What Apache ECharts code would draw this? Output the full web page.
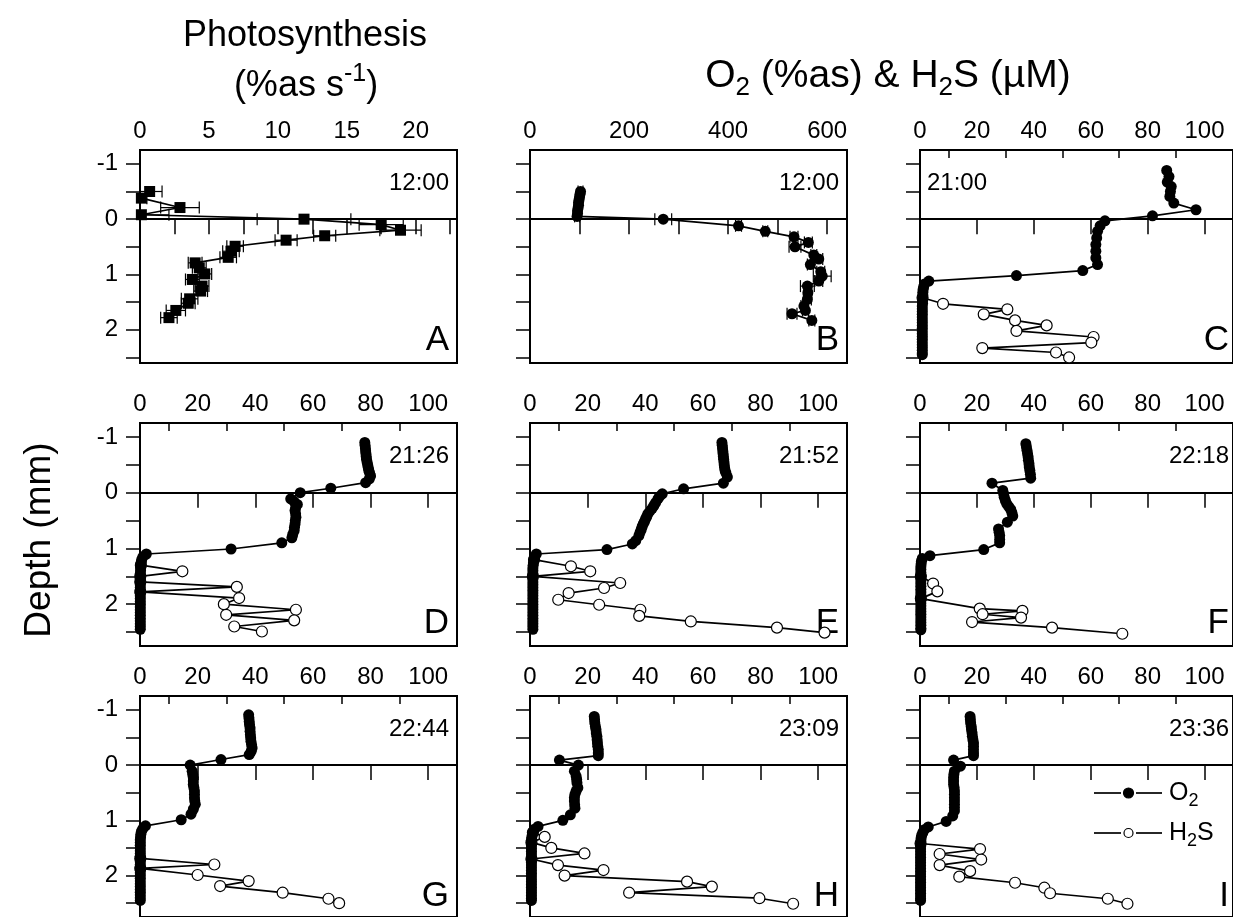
<!DOCTYPE html>
<html>
<head>
<meta charset="utf-8">
<script src="https://cdn.jsdelivr.net/npm/echarts@6/dist/echarts.min.js"></script>
<style>html,body{margin:0;padding:0;background:#fff}#main{width:1233px;height:917px}</style>
</head>
<body>
<div id="main"></div>
<script>
var FONT = '"Liberation Sans", Arial, Helvetica, sans-serif';

// A: photosynthesis 12:00  [rate, depth, error]
var photoA = [[0.7,-0.50,0.9],[0.1,-0.38,0.4],[2.9,-0.21,1.4],[0.1,-0.08,2.0],[11.9,0.00,3.4],[17.5,0.10,1.6],[18.9,0.20,1.5],[13.4,0.30,0.8],[10.6,0.38,0.8],[6.9,0.49,0.6],[6.6,0.58,0.6],[6.4,0.69,0.6],[4.0,0.79,0.5],[4.3,0.88,0.5],[4.7,0.99,0.5],[3.8,1.09,0.5],[4.5,1.21,0.5],[4.4,1.30,0.5],[3.6,1.44,0.6],[3.5,1.52,0.5],[2.6,1.65,0.7],[2.1,1.78,0.6]];
// B: O2 12:00  [%as, depth, error]
var o2B = [[102,-0.50,5],[101,-0.45,5],[100,-0.40,5],[99,-0.35,5],[98,-0.30,5],[98,-0.25,5],[97,-0.20,5],[96,-0.15,5],[96,-0.10,5],[95,-0.05,5],[269,0.00,17],[421,0.12,6],[475,0.22,5],[533,0.32,8],[562,0.42,8],[535,0.50,12],[573,0.65,6],[583,0.72,8],[566,0.82,6],[587,0.95,8],[590,1.03,18],[583,1.12,8],[560,1.21,14],[561,1.33,8],[560,1.45,8],[553,1.57,6],[556,1.65,6],[529,1.71,10],[569,1.83,6]];

// C-I: O2 (%as) and H2S (uM)  [value, depth]
var o2C = [[86.7,-0.88],[87.5,-0.77],[86.9,-0.67],[88.3,-0.59],[88.0,-0.50],[87.8,-0.41],[89.2,-0.29],[97.0,-0.17],[81.7,-0.06],[65.0,0.03],[63.3,0.12],[62.4,0.22],[62.1,0.34],[61.8,0.46],[61.8,0.58],[61.8,0.70],[62.4,0.82],[57.2,0.93],[33.9,1.02],[3.1,1.12],[1.6,1.17],[1.3,1.22],[1.1,1.27],[1.0,1.32],[1.0,1.37],[0.9,1.42],[0.9,1.47],[0.9,1.52],[0.8,1.57],[0.8,1.62],[0.8,1.67],[0.8,1.72],[0.8,1.77],[0.8,1.82],[0.8,1.87],[0.8,1.92],[0.8,1.97],[0.8,2.02],[0.8,2.07],[0.8,2.12],[0.8,2.17],[0.8,2.22],[0.8,2.27],[0.8,2.32],[0.8,2.37],[0.8,2.42],[0.8,2.45]];
var h2sC = [[0.9,1.42],[8.1,1.53],[30.7,1.63],[22.4,1.72],[33.4,1.83],[44.5,1.92],[33.9,2.02],[61.0,2.13],[60.2,2.23],[21.9,2.33],[47.8,2.41],[52.4,2.50]];

var o2D = [[78.0,-0.90],[78.1,-0.85],[78.2,-0.80],[78.3,-0.75],[78.4,-0.70],[78.5,-0.65],[78.6,-0.60],[78.8,-0.55],[79.0,-0.50],[79.2,-0.45],[79.4,-0.40],[79.7,-0.35],[80.0,-0.30],[79.6,-0.25],[78.3,-0.18],[66.2,-0.08],[55.6,0.00],[52.3,0.11],[53.5,0.16],[54.6,0.21],[54.0,0.27],[53.8,0.32],[54.0,0.38],[54.1,0.44],[53.9,0.50],[53.8,0.56],[53.6,0.62],[53.5,0.68],[53.0,0.75],[52.7,0.81],[49.2,0.90],[31.6,1.01],[2.2,1.10],[1.0,1.15],[0.6,1.20],[0.4,1.25],[0.3,1.30],[0.2,1.35],[0.2,1.40],[0.1,1.45],[0.1,1.50],[0.1,1.55],[0.1,1.60],[0.1,1.65],[0.1,1.70],[0.1,1.75],[0.1,1.80],[0.1,1.85],[0.1,1.90],[0.1,1.95],[0.1,2.00],[0.1,2.05],[0.1,2.10],[0.1,2.15],[0.1,2.20],[0.1,2.25],[0.1,2.30],[0.1,2.35],[0.1,2.40],[0.1,2.45]];
var h2sD = [[0.3,1.30],[14.7,1.41],[0.1,1.50],[0.1,1.60],[33.6,1.69],[0.1,1.78],[34.4,1.89],[29.1,2.00],[54.1,2.10],[29.9,2.19],[53.5,2.29],[32.7,2.40],[42.3,2.49]];

var o2E = [[66.6,-0.90],[66.7,-0.85],[66.8,-0.80],[66.9,-0.75],[67.0,-0.70],[67.1,-0.65],[67.2,-0.60],[67.3,-0.55],[67.4,-0.50],[67.5,-0.45],[67.7,-0.40],[68.0,-0.35],[68.5,-0.28],[67.1,-0.17],[53.3,-0.07],[45.9,0.02],[44.9,0.07],[44.4,0.11],[43.6,0.18],[43.0,0.23],[42.4,0.28],[41.6,0.33],[40.9,0.38],[40.5,0.43],[40.1,0.47],[39.7,0.52],[39.3,0.56],[38.9,0.61],[38.6,0.66],[38.2,0.71],[37.8,0.77],[36.7,0.86],[35.5,0.92],[26.7,1.02],[2.2,1.10],[1.6,1.15],[1.4,1.20],[1.2,1.25],[1.1,1.30],[1.0,1.35],[1.0,1.40],[1.0,1.45],[1.0,1.50],[1.0,1.55],[1.0,1.60],[1.0,1.65],[1.0,1.70],[1.0,1.75],[1.0,1.80],[1.0,1.85],[1.0,1.90],[1.0,1.95],[1.0,2.00],[1.0,2.05],[1.0,2.10],[1.0,2.15],[1.0,2.20],[1.0,2.25],[1.0,2.30],[1.0,2.35],[1.0,2.40],[1.0,2.45]];
var h2sE = [[1.4,1.20],[14.2,1.32],[20.9,1.41],[1.0,1.50],[31.3,1.62],[25.7,1.71],[13.4,1.80],[9.8,1.92],[24.0,2.01],[38.3,2.10],[37.9,2.21],[55.8,2.31],[85.7,2.42],[102.2,2.51]];

var o2F = [[37.2,-0.88],[37.4,-0.82],[37.6,-0.76],[37.8,-0.70],[38.0,-0.64],[38.1,-0.58],[38.3,-0.52],[38.4,-0.46],[38.6,-0.40],[38.8,-0.33],[38.9,-0.26],[25.3,-0.17],[29.1,-0.04],[29.4,0.02],[29.6,0.08],[30.0,0.14],[30.5,0.20],[31.2,0.25],[31.9,0.30],[32.3,0.36],[32.6,0.42],[30.7,0.53],[27.6,0.65],[27.8,0.71],[28.0,0.77],[28.0,0.84],[28.0,0.90],[22.4,1.02],[3.5,1.13],[0.8,1.18],[0.5,1.23],[0.4,1.28],[0.3,1.33],[0.3,1.38],[0.3,1.43],[0.3,1.48],[0.3,1.53],[0.3,1.58],[0.3,1.63],[0.3,1.68],[0.3,1.73],[0.3,1.78],[0.3,1.83],[0.3,1.88],[0.3,1.93],[0.3,1.98],[0.3,2.03],[0.3,2.08],[0.3,2.13],[0.3,2.18],[0.3,2.23],[0.3,2.28],[0.3,2.33],[0.3,2.38],[0.3,2.43],[0.3,2.46]];
var h2sF = [[0.3,1.50],[4.6,1.63],[6.1,1.77],[0.3,1.90],[21.0,2.08],[36.0,2.12],[22.0,2.18],[35.5,2.24],[18.3,2.32],[46.4,2.42],[71.1,2.53]];

var o2G = [[37.7,-0.91],[37.8,-0.85],[37.9,-0.79],[38.0,-0.73],[38.2,-0.67],[38.2,-0.61],[38.3,-0.55],[38.4,-0.49],[38.5,-0.43],[38.7,-0.37],[38.9,-0.31],[38.6,-0.25],[37.9,-0.19],[28.1,-0.10],[17.4,0.00],[18.1,0.11],[18.3,0.17],[18.5,0.23],[18.5,0.29],[18.5,0.35],[18.7,0.41],[18.9,0.47],[18.9,0.53],[18.9,0.59],[19.0,0.65],[19.2,0.71],[18.5,0.80],[17.7,0.89],[14.3,0.99],[1.9,1.10],[1.0,1.15],[0.5,1.20],[0.3,1.25],[0.2,1.30],[0.1,1.35],[0.1,1.40],[0.1,1.45],[0.1,1.50],[0.1,1.55],[0.1,1.60],[0.1,1.65],[0.1,1.70],[0.1,1.75],[0.1,1.80],[0.1,1.85],[0.1,1.90],[0.1,1.95],[0.1,2.00],[0.1,2.05],[0.1,2.10],[0.1,2.15],[0.1,2.20],[0.1,2.25],[0.1,2.30],[0.1,2.35],[0.1,2.40],[0.1,2.45]];
var h2sG = [[0.1,1.69],[25.8,1.80],[0.1,1.87],[20.0,1.99],[37.7,2.10],[27.8,2.19],[49.5,2.31],[65.4,2.42],[69.1,2.50]];

var o2H = [[22.3,-0.88],[22.4,-0.82],[22.5,-0.76],[22.7,-0.70],[22.9,-0.64],[23.0,-0.58],[23.2,-0.52],[23.3,-0.46],[23.4,-0.40],[23.5,-0.34],[23.7,-0.28],[23.7,-0.22],[23.7,-0.17],[10.2,-0.09],[16.8,0.00],[15.4,0.11],[16.0,0.20],[16.2,0.26],[16.3,0.32],[16.6,0.41],[16.0,0.47],[15.6,0.53],[15.4,0.59],[15.4,0.65],[15.5,0.72],[15.6,0.78],[14.0,0.90],[11.4,1.00],[2.8,1.11],[1.5,1.16],[1.0,1.21],[0.8,1.26],[0.6,1.31],[0.5,1.36],[0.5,1.41],[0.5,1.46],[0.5,1.51],[0.5,1.56],[0.5,1.61],[0.5,1.66],[0.5,1.71],[0.5,1.76],[0.5,1.81],[0.5,1.86],[0.5,1.91],[0.5,1.96],[0.5,2.01],[0.5,2.06],[0.5,2.11],[0.5,2.16],[0.5,2.21],[0.5,2.26],[0.5,2.31],[0.5,2.36],[0.5,2.41],[0.5,2.45]];
var h2sH = [[1.0,1.22],[5.1,1.30],[0.5,1.40],[7.4,1.50],[18.9,1.60],[0.5,1.70],[9.7,1.81],[25.5,1.90],[12.0,2.00],[54.5,2.11],[63.1,2.20],[34.4,2.31],[79.6,2.41],[91.3,2.51]];

var o2I = [[17.6,-0.88],[17.7,-0.82],[17.8,-0.76],[18.0,-0.70],[18.1,-0.64],[18.3,-0.58],[18.4,-0.52],[18.6,-0.46],[18.8,-0.40],[18.8,-0.34],[18.8,-0.28],[18.8,-0.22],[18.8,-0.17],[11.8,-0.09],[14.2,0.02],[12.1,0.11],[11.9,0.17],[11.8,0.23],[11.8,0.29],[11.8,0.35],[12.0,0.41],[12.1,0.47],[12.1,0.53],[12.1,0.59],[12.1,0.65],[12.1,0.71],[12.1,0.77],[12.1,0.83],[11.5,0.92],[9.2,1.02],[2.9,1.12],[1.5,1.17],[1.0,1.22],[0.6,1.27],[0.4,1.32],[0.3,1.37],[0.2,1.42],[0.2,1.47],[0.2,1.52],[0.2,1.57],[0.2,1.62],[0.2,1.67],[0.2,1.72],[0.2,1.77],[0.2,1.82],[0.2,1.87],[0.2,1.92],[0.2,1.97],[0.2,2.02],[0.2,2.07],[0.2,2.12],[0.2,2.17],[0.2,2.22],[0.2,2.27],[0.2,2.32],[0.2,2.37],[0.2,2.42],[0.2,2.45]];
var h2sI = [[0.2,1.42],[21.1,1.52],[6.9,1.61],[21.5,1.71],[6.9,1.81],[17.6,1.92],[13.8,2.02],[33.4,2.13],[43.7,2.22],[45.7,2.32],[66.0,2.42],[72.9,2.51]];

var timeLabels = ['12:00','12:00','21:00','21:26','21:52','22:18','22:44','23:09','23:36'];
var panelLetters = ['A','B','C','D','E','F','G','H','I'];
var legendItems = [{main: 'O', sub: '2', tail: '', filled: true}, {main: 'H', sub: '2', tail: 'S', filled: false}];

// tick positions
var depthTicks = [-1,-0.5,0,0.5,1,1.5,2,2.5];
var depthLabels = [-1,0,1,2];
var ticksA = [0,2.5,5,7.5,10,12.5,15,17.5,20,22.5];
var labelsA = [0,5,10,15,20];
var ticksB = [100,200,300,400,500,600];
var labelsB = [0,200,400,600];
var majorTicks = [20,40,60,80,100];
var minorTicks = [10,30,50,70,90];
var labels100 = [0,20,40,60,80,100];

var o2Data = [null, null, o2C, o2D, o2E, o2F, o2G, o2H, o2I];
var h2sData = [null, null, h2sC, h2sD, h2sE, h2sF, h2sG, h2sH, h2sI];

// layout (px)
var colLeft = [140, 530, 920];
var rowTop = [150, 423, 696];
var rowHeight = [213, 223, 223];
var yMax = [2.6, 2.75, 2.75];
var plotW = 317;

var chart = echarts.init(document.getElementById('main'));

function errBar(params, api) {
  var x = api.value(0), y = api.value(1), e = api.value(2);
  var a = api.coord([x - e, y]), b = api.coord([x + e, y]);
  var h = 6, st = {stroke: '#000', lineWidth: 1.2};
  return {type: 'group', children: [
    {type: 'line', shape: {x1: a[0], y1: a[1], x2: b[0], y2: b[1]}, style: st},
    {type: 'line', shape: {x1: a[0], y1: a[1] - h, x2: a[0], y2: a[1] + h}, style: st},
    {type: 'line', shape: {x1: b[0], y1: b[1] - h, x2: b[0], y2: b[1] + h}, style: st}
  ]};
}

var zeroLine = {
  silent: true, symbol: ['none', 'none'], animation: false,
  label: {show: false},
  lineStyle: {color: '#000', width: 1.5, type: 'solid'},
  data: [{yAxis: 0}]
};

var grids = [], xAxes = [], yAxes = [], series = [], graphics = [];

for (var i = 0; i < 9; i++) {
  var r = Math.floor(i / 3), c = i % 3;
  grids.push({left: colLeft[c], top: rowTop[r], width: plotW, height: rowHeight[r],
    show: true, borderColor: '#000', borderWidth: 2});

  var xmax = 110, major = majorTicks, minor = minorTicks, labs = labels100;
  if (i === 0) { xmax = 23; major = ticksA; minor = []; labs = labelsA; }
  if (i === 1) { xmax = 640; major = ticksB; minor = []; labs = labelsB; }

  xAxes.push({type: 'value', gridIndex: i, position: 'top', min: 0, max: xmax,
    axisLine: {show: true, lineStyle: {color: '#000', width: 2}},
    axisTick: {show: true, inside: true, length: 15, customValues: major, lineStyle: {color: '#000', width: 1.5}},
    axisLabel: {show: true, customValues: labs, fontSize: 24, color: '#000', fontFamily: FONT, margin: 7},
    splitLine: {show: false}});
  xAxes.push({type: 'value', gridIndex: i, position: 'top', min: 0, max: xmax,
    axisLine: {show: false},
    axisTick: {show: minor.length > 0, inside: true, length: 8, customValues: minor, lineStyle: {color: '#000', width: 1.5}},
    axisLabel: {show: false}, splitLine: {show: false}});
  yAxes.push({type: 'value', gridIndex: i, position: 'left', inverse: true, min: -1.25, max: yMax[r],
    axisLine: {show: true, lineStyle: {color: '#000', width: 2}},
    axisTick: {show: true, inside: false, length: 14, customValues: depthTicks, lineStyle: {color: '#000', width: 1.5}},
    axisLabel: {show: c === 0, customValues: depthLabels, fontSize: 24, color: '#000', fontFamily: FONT, margin: 22},
    splitLine: {show: false}});

  var lineBase = {type: 'line', xAxisIndex: 2 * i, yAxisIndex: i, showAllSymbol: true,
    animation: false, silent: true, z: 3,
    lineStyle: {color: '#000', width: 1.7}};

  if (i === 0 || i === 1) {
    var d = i === 0 ? photoA : o2B;
    series.push({type: 'custom', xAxisIndex: 2 * i, yAxisIndex: i, renderItem: errBar,
      encode: {x: 0, y: 1}, data: d, clip: true, silent: true, animation: false, z: 2});
    series.push(Object.assign({}, lineBase, {
      name: i === 0 ? 'Photosynthesis' : 'O2',
      data: d.map(function (p) { return [p[0], p[1]]; }),
      symbol: i === 0 ? 'rect' : 'circle', symbolSize: 11,
      itemStyle: {color: '#000'}, markLine: zeroLine}));
  } else {
    series.push(Object.assign({}, lineBase, {
      name: 'H2S', data: h2sData[i], symbol: 'circle', symbolSize: 11,
      itemStyle: {color: '#fff', borderColor: '#000', borderWidth: 1.2}}));
    series.push(Object.assign({}, lineBase, {
      name: 'O2', data: o2Data[i], symbol: 'circle', symbolSize: 11,
      itemStyle: {color: '#000'}, markLine: zeroLine, z: 4}));
  }

  var right = colLeft[c] + plotW;
  if (c === 2) right = 1237;
  graphics.push({type: 'text', x: i === 2 ? colLeft[c] + 7 : right - 8, y: rowTop[r] + 33, silent: true,
    style: {text: timeLabels[i], font: '24px ' + FONT, fill: '#000',
      align: i === 2 ? 'left' : 'right', verticalAlign: 'middle'}});
  graphics.push({type: 'text', x: right - 8, y: rowTop[r] + rowHeight[r] - 5, silent: true,
    style: {text: panelLetters[i], font: '35px ' + FONT, fill: '#000', align: 'right', verticalAlign: 'bottom'}});
}

// legend drawn in panel I:  —●— O2 / —○— H2S
legendItems.forEach(function (it, k) {
  var y = 793 + k * 40;
  graphics.push({type: 'line', silent: true, shape: {x1: 1094, y1: y, x2: 1121, y2: y}, style: {stroke: '#000', lineWidth: 1.7}});
  graphics.push({type: 'line', silent: true, shape: {x1: 1136, y1: y, x2: 1162, y2: y}, style: {stroke: '#000', lineWidth: 1.7}});
  graphics.push({type: 'circle', silent: true, shape: {cx: 1128.5, cy: y, r: it.filled ? 5 : 4.5},
    style: {fill: it.filled ? '#000' : '#fff', stroke: '#000', lineWidth: 1.2}});
  graphics.push({type: 'text', silent: true, x: 1169, y: y,
    style: {text: it.main + '{s|' + it.sub + '}' + it.tail, font: '25px ' + FONT, fill: '#000',
      align: 'left', verticalAlign: 'middle',
      rich: {s: {fontSize: 18, fontFamily: FONT, fill: '#000', padding: [16, 0, 0, 0]}}}});
});

graphics.push({type: 'text', x: 305, y: 36, silent: true,
  style: {text: 'Photosynthesis', font: '36px ' + FONT, fill: '#000', align: 'center', verticalAlign: 'middle'}});
graphics.push({type: 'text', x: 306, y: 86, silent: true,
  style: {text: '(%as s{sup|-1})', font: '36px ' + FONT, fill: '#000', align: 'center', verticalAlign: 'middle',
    rich: {sup: {fontSize: 25, fontFamily: FONT, fill: '#000', padding: [0, 0, 24, 0]}}}});
graphics.push({type: 'text', x: 888, y: 76, silent: true,
  style: {text: 'O{sub|2} (%as) & H{sub|2}S (µM)', font: '39px ' + FONT, fill: '#000', align: 'center', verticalAlign: 'middle',
    rich: {sub: {fontSize: 26, fontFamily: FONT, fill: '#000', padding: [24, 0, 0, 0]}}}});
graphics.push({type: 'text', x: 40, y: 540, rotation: Math.PI / 2, silent: true,
  style: {text: 'Depth (mm)', font: '37px ' + FONT, fill: '#000', align: 'center', verticalAlign: 'middle'}});

var option = {
  backgroundColor: '#fff',
  animation: false,
  grid: grids,
  xAxis: xAxes,
  yAxis: yAxes,
  graphic: graphics,
  series: series
};

chart.setOption(option);
</script>
</body>
</html>
